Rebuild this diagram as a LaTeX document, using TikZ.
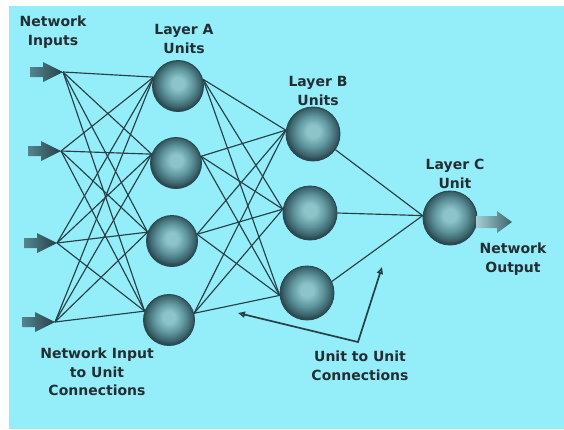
\documentclass[tikz,border=0pt]{standalone}
\usepackage{fontspec}
\setmainfont{DejaVu Sans}
\usetikzlibrary{arrows.meta}

\definecolor{bgcyan}{RGB}{147,238,249}
\definecolor{wire}{RGB}{40,64,72}
\definecolor{labeltext}{RGB}{36,46,50}
\definecolor{sphc}{RGB}{140,196,202}
\definecolor{sphm}{RGB}{94,148,156}
\definecolor{sphe}{RGB}{60,100,108}
\definecolor{sphd}{RGB}{42,72,80}

% sphere shading: light core a little above centre, dark rim
\pgfdeclareradialshading{unitball}{\pgfpoint{0bp}{3bp}}{%
  color(0bp)=(sphc); color(6bp)=(sphc); color(15bp)=(sphm);
  color(22bp)=(sphe); color(25bp)=(sphd); color(50bp)=(sphd)}

\tikzset{
  unit/.style={circle, minimum size=51pt, inner sep=0pt, shading=unitball,
               draw=sphd, line width=0.9pt},
  bigunit/.style={unit, minimum size=54pt},
  wirelink/.style={draw=wire, line width=1.15pt},
  lbl/.style={font=\bfseries\fontsize{14}{18.5}\selectfont, text=labeltext,
              align=center, inner sep=0pt},
  callout/.style={draw=wire, line width=1.7pt,
                  {Triangle[open,length=7pt,width=6pt]}-{Triangle[open,length=7pt,width=6pt]}},
}

\begin{document}
\begin{tikzpicture}[x=1pt,y=-1pt]
  % page and backdrop
  \fill[white] (0,0) rectangle (564,429);
  \fill[bgcyan] (9,6) rectangle (564,429);
  \useasboundingbox (0,0) rectangle (564,429);

  % input arrow tips
  \coordinate (i1) at (63,72);
  \coordinate (i2) at (61,151);
  \coordinate (i3) at (57,243);
  \coordinate (i4) at (55,322);

  % input arrows (shaded wedges)
  \foreach \t in {i1,i2,i3,i4}{
    \shade[left color=bgcyan!40!wire, right color=wire]
      ([shift={(0,0)}]\t) -- ([shift={(-20,-10)}]\t) -- ([shift={(-20,-5)}]\t)
      -- ([shift={(-33,-5)}]\t) -- ([shift={(-33,5)}]\t) -- ([shift={(-20,5)}]\t)
      -- ([shift={(-20,10)}]\t) -- cycle;
  }

  % layer A
  \node[unit] (a1) at (178,86) {};
  \node[unit] (a2) at (176,163) {};
  \node[unit] (a3) at (172,241) {};
  \node[unit] (a4) at (169,320) {};
  % layer B
  \node[bigunit] (b1) at (313,134) {};
  \node[bigunit] (b2) at (310,213) {};
  \node[bigunit] (b3) at (307,293) {};
  % layer C
  \node[bigunit] (c1) at (450,218) {};

  % input to layer A
  \foreach \t in {i1,i2,i3,i4}
    \foreach \u in {a1,a2,a3,a4}
      \draw[wirelink] (\t) -- (\u.160);

  % layer A to layer B
  \foreach \u in {a1,a2,a3,a4}{
    \draw[wirelink] (\u.15) -- (b1.172);
    \draw[wirelink] (\u.15) -- (b2.172);
    \draw[wirelink] (\u.15) -- (b3.185);
  }

  % layer B to layer C
  \draw[wirelink] (b1.-35) -- (c1.175);
  \draw[wirelink] (b2.0) -- (c1.175);
  \draw[wirelink] (b3.25) -- (c1.175);

  % output arrow
  \coordinate (out) at (512,222);
  \shade[left color=sphc!80!white, right color=sphe]
    ([shift={(-36,-6)}]out) -- ([shift={(-15,-6)}]out) -- ([shift={(-15,-11)}]out)
    -- (out) -- ([shift={(-15,11)}]out) -- ([shift={(-15,6)}]out)
    -- ([shift={(-36,6)}]out) -- cycle;

  % callout bracket
  \coordinate (k1) at (382,267);
  \coordinate (k2) at (358,342);
  \coordinate (k3) at (238,313);
  \draw[callout] (k3) -- (k2) -- (k1);

  % labels
  \node[lbl] (lin)  at (53,32)   {Network\\Inputs};
  \node[lbl] (la)   at (184,39)  {Layer A\\Units};
  \node[lbl] (lb)   at (318,91)  {Layer B\\Units};
  \node[lbl] (lc)   at (455,174) {Layer C\\Unit};
  \node[lbl] (lout) at (513,259) {Network\\Output};
  \node[lbl] (lnic) at (97,372)  {Network Input\\to Unit\\Connections};
  \node[lbl] (luuc) at (360,366) {Unit to Unit\\Connections};
\end{tikzpicture}
\end{document}
